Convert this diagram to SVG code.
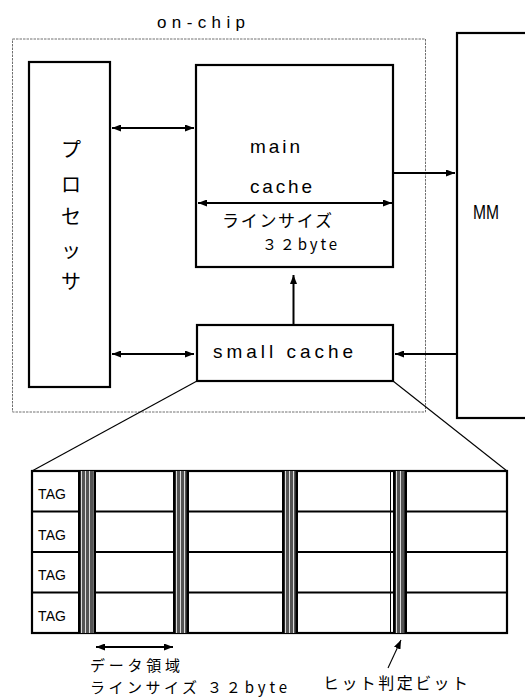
<svg xmlns="http://www.w3.org/2000/svg" width="525" height="699" viewBox="0 0 525 699">
<style>
.box{fill:#fff;stroke:#000;stroke-width:2.2}
.ln{stroke:#000;stroke-width:2;fill:none}
.thin{stroke:#000;stroke-width:1.1;fill:none}
.lat{font-family:"Liberation Sans",Arial,sans-serif;fill:#000}
.jp{font-family:"Noto Sans CJK JP","Noto Sans",sans-serif;fill:#000}
.bandbg{fill:#555}
.bandw{stroke:#fff;stroke-width:0.8}
.bandk{fill:#000}
</style>
<defs>
<marker id="ah" markerUnits="userSpaceOnUse" markerWidth="9" markerHeight="7" refX="9" refY="3.5" orient="auto-start-reverse">
<path d="M0,0 L9,3.5 L0,7 z" fill="#000"/>
</marker>
</defs>
<rect width="525" height="699" fill="#fff"/>

<g id="onchip">
<rect x="12.5" y="39" width="413" height="373" fill="none" stroke="#707070" stroke-width="1" stroke-dasharray="2.5,1"/>
<text class="lat" x="157" y="28" font-size="17" textLength="88" lengthAdjust="spacing">on-chip</text>
</g>

<g id="processor">
<rect class="box" x="29" y="62" width="81" height="325"/>
<g class="jp" font-size="20" text-anchor="middle" dominant-baseline="central">
<text x="71" y="148">プ</text>
<text x="71" y="183">ロ</text>
<text x="71" y="215">セ</text>
<text x="71" y="249">ッ</text>
<text x="71" y="280">サ</text>
</g>
</g>

<g id="main-cache">
<rect class="box" x="196" y="65" width="197" height="202"/>
<text class="lat" x="250" y="153" font-size="19" textLength="50" lengthAdjust="spacing">main</text>
<text class="lat" x="250" y="193" font-size="19" textLength="62" lengthAdjust="spacing">cache</text>
<text class="jp" x="222" y="227" font-size="17" textLength="110" lengthAdjust="spacing">ラインサイズ</text>
<text class="jp" x="262" y="250" font-size="15" textLength="75" lengthAdjust="spacing">３２byte</text>
</g>

<g id="mm">
<rect class="box" x="457" y="33" width="90" height="385"/>
<text class="lat" x="473" y="219" font-size="20" textLength="26" lengthAdjust="spacingAndGlyphs">MM</text>
</g>

<g id="small-cache">
<rect class="box" x="197" y="325" width="196" height="56"/>
<text class="lat" x="213" y="358" font-size="19" textLength="140" lengthAdjust="spacing">small cache</text>
</g>

<g id="tag-table">
<rect x="32" y="471" width="475" height="162" fill="#fff" stroke="#000" stroke-width="2.2"/>
<line class="ln" x1="32" y1="511.5" x2="507" y2="511.5"/>
<line class="ln" x1="32" y1="552" x2="507" y2="552"/>
<line class="ln" x1="32" y1="592.5" x2="507" y2="592.5"/>
<g class="lat" font-size="14">
<text x="38" y="499" textLength="28" lengthAdjust="spacing">TAG</text>
<text x="38" y="539.5" textLength="28" lengthAdjust="spacing">TAG</text>
<text x="38" y="580" textLength="28" lengthAdjust="spacing">TAG</text>
<text x="38" y="620.5" textLength="28" lengthAdjust="spacing">TAG</text>
</g>
<g id="band1">
<rect class="bandbg" x="78" y="471" width="18" height="162"/>
<path class="bandw" d="M81.5,471V633 M85.5,471V633 M89.5,471V633 M93.5,471V633"/>
<rect class="bandk" x="78" y="471" width="2.5" height="162"/>
<rect class="bandk" x="93.5" y="471" width="2.5" height="162"/>
</g>
<g id="band2">
<rect class="bandbg" x="173" y="471" width="16" height="162"/>
<path class="bandw" d="M176.5,471V633 M180.5,471V633 M184.5,471V633"/>
<rect class="bandk" x="173" y="471" width="2.5" height="162"/>
<rect class="bandk" x="186.5" y="471" width="2.5" height="162"/>
</g>
<g id="band3">
<rect class="bandbg" x="282" y="471" width="16" height="162"/>
<path class="bandw" d="M285.5,471V633 M289.5,471V633 M293.5,471V633"/>
<rect class="bandk" x="282" y="471" width="2.5" height="162"/>
<rect class="bandk" x="295.5" y="471" width="2.5" height="162"/>
</g>
<g id="band4">
<line x1="390.5" y1="471" x2="390.5" y2="633" stroke="#000" stroke-width="1"/>
<rect class="bandbg" x="393" y="471" width="14" height="162"/>
<path class="bandw" d="M396.5,471V633 M400.5,471V633"/>
<rect class="bandk" x="393" y="471" width="2.5" height="162"/>
<rect class="bandk" x="404.5" y="471" width="2.5" height="162"/>
</g>
</g>

<g id="labels">
<text class="jp" x="90" y="671" font-size="15" textLength="90" lengthAdjust="spacing">データ領域</text>
<text class="jp" x="90" y="693" font-size="15" textLength="107" lengthAdjust="spacing">ラインサイズ</text>
<text class="jp" x="207" y="693" font-size="15" textLength="80" lengthAdjust="spacing">３２byte</text>
<text class="jp" x="323" y="689" font-size="16" textLength="145" lengthAdjust="spacing">ヒット判定ビット</text>
</g>

<g id="connectors">
<line class="ln" x1="112" y1="128" x2="194" y2="128" marker-start="url(#ah)" marker-end="url(#ah)"/>
<line class="ln" x1="112" y1="354" x2="194" y2="354" marker-start="url(#ah)" marker-end="url(#ah)"/>
<line class="ln" x1="393" y1="173" x2="455" y2="173" marker-end="url(#ah)"/>
<line class="ln" x1="198" y1="203" x2="392" y2="203" marker-start="url(#ah)" marker-end="url(#ah)"/>
<line class="ln" x1="293.5" y1="325" x2="293.5" y2="275" marker-end="url(#ah)"/>
<line class="ln" x1="457" y1="354" x2="395" y2="354" marker-end="url(#ah)"/>
<line class="thin" x1="197" y1="381" x2="32" y2="471"/>
<line class="thin" x1="393" y1="381" x2="507" y2="471"/>
<line class="ln" x1="96" y1="647" x2="173" y2="647" marker-start="url(#ah)" marker-end="url(#ah)"/>
<line class="thin" x1="388" y1="668" x2="401" y2="640" marker-end="url(#ah)"/>
</g>
</svg>
